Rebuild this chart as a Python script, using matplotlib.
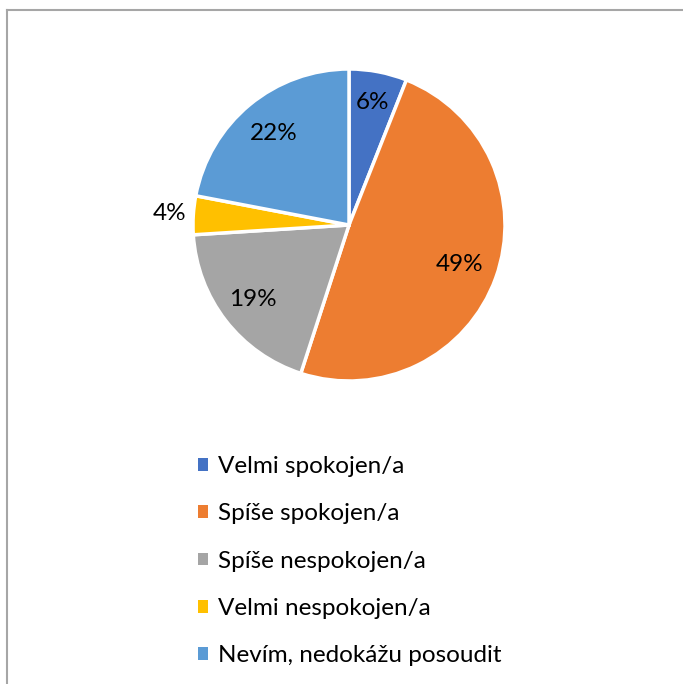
"""
Grafico a torta: spokojenost (5 categorie) con legenda sotto.
"""

import numpy as np
import matplotlib
matplotlib.use("Agg")
import matplotlib.pyplot as plt
from matplotlib.lines import Line2D
from matplotlib.patches import Patch


# ─────────────────────────────────────────
# Dati
# ─────────────────────────────────────────

categories = ["Velmi spokojen/a", "Spíše spokojen/a", "Spíše nespokojen/a",
              "Velmi nespokojen/a", "Nevím, nedokážu posoudit"]
values = [6, 49, 19, 4, 22]
labels = ["6%", "49%", "19%", "4%", "22%"]

colors = ["#4472C4", "#ED7D31", "#A5A5A5", "#FFC000", "#5B9BD5"]
label_dist = [0.80, 0.75, 0.78, 1.15, 0.76]

plt.rcParams["font.family"] = ["Lato", "DejaVu Sans"]

W, H = 683, 684
fig = plt.figure(figsize=(W / 100, H / 100), dpi=100)
ax = fig.add_axes([0, 0, 1, 1])
ax.set_xlim(0, W)
ax.set_ylim(0, H)
ax.set_aspect("equal")
ax.axis("off")

cx, cy, r = 349, H - 225, 156
wedges, _ = ax.pie(values, colors=colors, startangle=90, counterclock=False,
                   center=(cx, cy), radius=r,
                   wedgeprops=dict(edgecolor="white", linewidth=2.5))
ax.set_xlim(0, W)
ax.set_ylim(0, H)

for w, lab, d in zip(wedges, labels, label_dist):
    ang = np.deg2rad((w.theta1 + w.theta2) / 2)
    ax.text(cx + d * r * np.cos(ang), cy + d * r * np.sin(ang), lab,
            ha="center", va="center", fontsize=17.5, color="#000000")

# legenda
handles = [Patch(facecolor=c, edgecolor="none") for c in colors]
fig.legend(handles, categories, loc="upper left",
           bbox_to_anchor=(186 / W, 1 - 444 / H), frameon=False,
           fontsize=17.5, handlelength=0.42, handleheight=0.42,
           handletextpad=0.4, labelspacing=1.08, borderpad=0)

# bordo del riquadro (solo alto e sinistra visibili)
fig.add_artist(Line2D([7 / W, 1], [1 - 10 / H, 1 - 10 / H],
                      transform=fig.transFigure, color="#A6A6A6", lw=1.5))
fig.add_artist(Line2D([7 / W, 7 / W], [0, 1 - 10 / H],
                      transform=fig.transFigure, color="#A6A6A6", lw=1.5))

plt.savefig("out.png", dpi=100)
